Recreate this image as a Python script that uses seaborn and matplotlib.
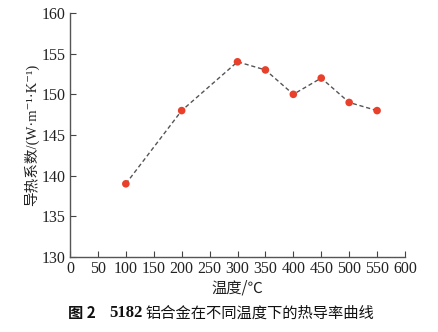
import matplotlib
matplotlib.use("Agg")
import matplotlib.pyplot as plt
import seaborn as sns
import pandas as pd

# Thermal conductivity of 5182 aluminium alloy at different temperatures
temperature = [100, 200, 300, 350, 400, 450, 500, 550]
conductivity = [139, 148, 154, 153, 150, 152, 149, 148]
x_ticks = [0, 50, 100, 150, 200, 250, 300, 350, 400, 450, 500, 550, 600]
y_ticks = [130, 135, 140, 145, 150, 155, 160]

sns.set_theme(style="ticks")
SERIF = ["Liberation Serif", "DejaVu Serif", "Noto Sans CJK SC"]
plt.rcParams["font.family"] = SERIF

df = pd.DataFrame({"T": temperature, "k": conductivity})

fig = plt.figure(figsize=(4.39, 3.32), dpi=100)
ax = fig.add_axes([70 / 439, 1 - 257 / 332, (405 - 70) / 439, (257 - 13) / 332])

sns.lineplot(data=df, x="T", y="k", ax=ax, color="#555555", linestyle=(0, (3, 2)),
             linewidth=1.0, zorder=1)
sns.scatterplot(data=df, x="T", y="k", ax=ax, color="#e8402a", s=30,
                edgecolor="none", zorder=2)

ax.set_xlim(0, 600)
ax.set_ylim(130, 160)
ax.set_xticks(x_ticks)
ax.set_yticks(y_ticks)
ax.tick_params(direction="in", length=4, width=0.8, labelsize=11.5,
               colors="#444444", labelcolor="#222222", pad=3)
for lbl in ax.get_xticklabels() + ax.get_yticklabels():
    lbl.set_family(SERIF)
for side in ("top", "right"):
    ax.spines[side].set_visible(False)
for side in ("left", "bottom"):
    ax.spines[side].set_color("#555555")
    ax.spines[side].set_linewidth(1.0)

ax.set_xlabel("温度/℃", fontsize=11, color="#222222", labelpad=2,
              family=["Noto Sans CJK SC", "DejaVu Sans"])
ax.set_ylabel("导热系数/(W·m⁻¹·K⁻¹)", fontsize=10.5, color="#222222",
              labelpad=2, family=["Liberation Serif", "DejaVu Serif", "Noto Sans CJK SC"])

# Caption assembled from pieces: bold figure number, bold alloy grade, title
y_cap = 1 - 313 / 332
fig.canvas.draw()
renderer = fig.canvas.get_renderer()
pieces = [
    ("图 2", dict(family=["Noto Sans CJK SC"], weight="bold", fontsize=11), 14),
    ("5182", dict(family=["Liberation Serif"], weight="bold", fontsize=12), 3),
    ("铝合金在不同温度下的热导率曲线", dict(family=["Noto Sans CJK SC"], fontsize=11), 0),
]
texts = []
x = 0.0
for s, kw, gap in pieces:
    t = fig.text(x, y_cap, s, ha="left", va="center", color="#111111", **kw)
    w = t.get_window_extent(renderer).width
    texts.append((t, w, gap))
    x += (w + gap) / fig.bbox.width
total = sum(w + g for _, w, g in texts) - texts[-1][2]
start = 221 / 439 - total / 2 / fig.bbox.width
x = start
for t, w, gap in texts:
    t.set_x(x)
    x += (w + gap) / fig.bbox.width

fig.savefig("out.png", dpi=100)
